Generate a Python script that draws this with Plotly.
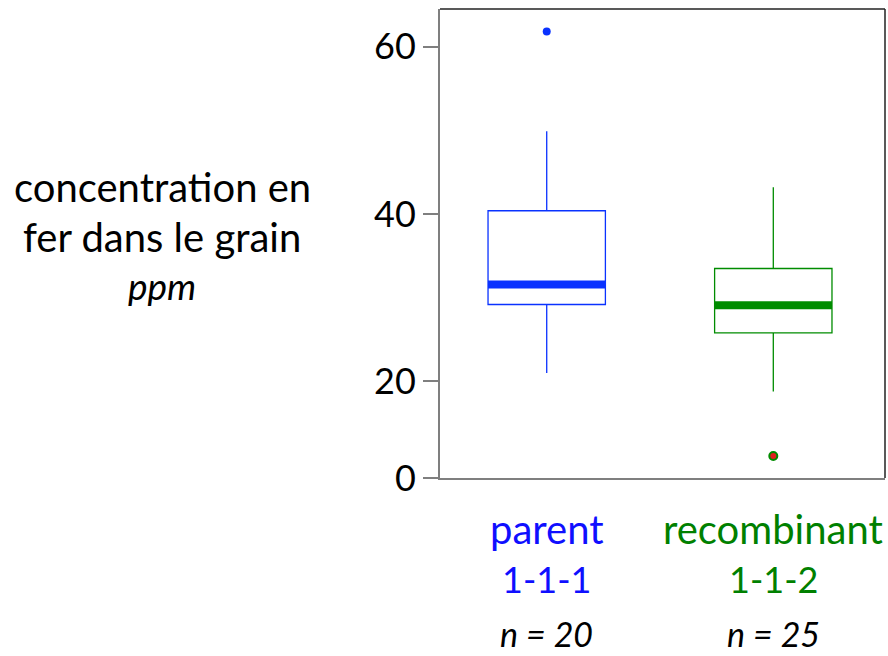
import plotly.graph_objects as go

# ---- data ----
groups = ["parent", "recombinant"]
group_codes = ["1-1-1", "1-1-2"]
group_n = ["n = 20", "n = 25"]
q1_vals = [29.2, 25.8]
median_vals = [31.6, 29.1]
q3_vals = [40.4, 33.5]
lower_whisker = [21.0, 18.8]
upper_whisker = [49.9, 43.2]
outliers = [[61.8], [11.1]]
ytick_vals = [8.47, 20, 40, 60]
ytick_text = ["0", "20", "40", "60"]

colors = ["#0a32ff", "#008c00"]
text_colors = ["#0f0fff", "#008000"]
FONT = "Lato"
FS = 36
BOX_W = 0.518
Y_RANGE = [8.47, 64.5]
X_RANGE = [-0.471, 1.493]

fig = go.Figure()
for i, g in enumerate(groups):
    fig.add_trace(go.Box(
        x=[i], q1=[q1_vals[i]], median=[median_vals[i]], q3=[q3_vals[i]],
        lowerfence=[lower_whisker[i]], upperfence=[upper_whisker[i]],
        width=BOX_W, whiskerwidth=0, boxpoints=False,
        fillcolor="white", line=dict(color=colors[i], width=1.3),
        showlegend=False, hoverinfo="skip", name=g,
    ))
    fig.add_trace(go.Scatter(
        x=[i - BOX_W / 2, i + BOX_W / 2], y=[median_vals[i], median_vals[i]],
        mode="lines", line=dict(color=colors[i], width=8),
        showlegend=False, hoverinfo="skip",
    ))

fig.add_trace(go.Scatter(
    x=[0] * len(outliers[0]), y=outliers[0], mode="markers",
    marker=dict(color=colors[0], size=8, line=dict(width=0)),
    showlegend=False, hoverinfo="skip",
))
fig.add_trace(go.Scatter(
    x=[1] * len(outliers[1]), y=outliers[1], mode="markers",
    marker=dict(color="#e02020", size=8, line=dict(color=colors[1], width=2)),
    showlegend=False, hoverinfo="skip",
))

L, T, R, B = 440, 9, 885, 478
W, H = 888, 656


def px(xp):
    return (xp - L) / (R - L)


def py(yp):
    return (B - yp) / (B - T)


ann = []
for i in range(2):
    for txt, yy, col, ital, fs in [
        (groups[i], 529, text_colors[i], False, 40),
        (group_codes[i], 579, text_colors[i], False, 36),
        (group_n[i], 633, "black", True, 34),
    ]:
        ann.append(dict(
            x=i, xref="x", y=py(yy), yref="paper",
            text=f"<i>{txt}</i>" if ital else txt, showarrow=False,
            xanchor="center", yanchor="middle",
            font=dict(family=FONT, size=fs, color=col),
        ))

for txt, yy, ital, fs in [("concentration en", 187, False, 40),
                          ("fer dans le grain", 237, False, 40),
                          ("ppm", 285, True, 37)]:
    ann.append(dict(
        x=px(162), xref="paper", y=py(yy), yref="paper",
        text=f"<i>{txt}</i>" if ital else txt, showarrow=False,
        xanchor="center", yanchor="middle",
        font=dict(family=FONT, size=fs, color="black"),
    ))

fig.update_layout(
    width=W, height=H,
    margin=dict(l=L, r=W - R, t=T, b=H - B),
    paper_bgcolor="white", plot_bgcolor="white",
    font=dict(family=FONT, size=FS, color="black"),
    xaxis=dict(range=X_RANGE, showticklabels=False, ticks="", showgrid=False,
               zeroline=False, showline=True, linecolor="#7f7f7f", linewidth=2),
    yaxis=dict(range=Y_RANGE, tickvals=ytick_vals, ticktext=ytick_text,
               ticks="outside", ticklen=15, tickcolor="#7f7f7f", tickwidth=1.5,
               showgrid=False, zeroline=False, showline=True,
               linecolor="#7f7f7f", linewidth=2,
               tickfont=dict(family=FONT, size=FS, color="black")),
    annotations=ann,
    shapes=[
        dict(type="line", xref="paper", yref="paper", x0=0, x1=1, y0=1, y1=1,
             line=dict(color="#222222", width=1.5)),
        dict(type="line", xref="paper", yref="paper", x0=1, x1=1, y0=0, y1=1,
             line=dict(color="#222222", width=1.5)),
    ],
)

fig.write_html("out.html")
